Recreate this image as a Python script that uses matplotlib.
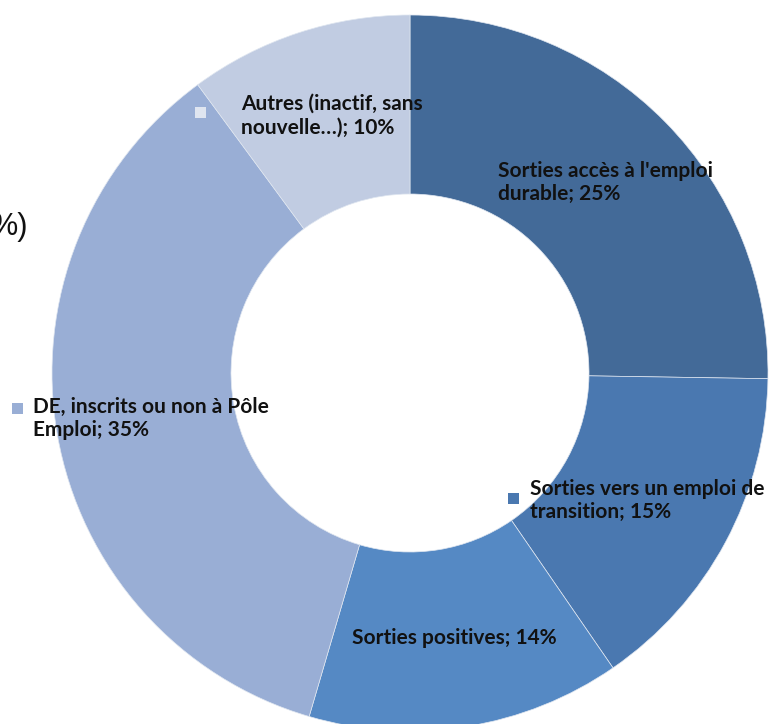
import matplotlib
matplotlib.use("Agg")
import matplotlib.pyplot as plt
from matplotlib.patches import Rectangle

# Data
categories = ["Sorties accès à l'emploi durable",
              "Sorties vers un emploi de transition",
              "Sorties positives",
              "DE, inscrits ou non à Pôle Emploi",
              "Autres (inactif, sans nouvelle…)"]
values = [25, 15, 14, 35, 10]
label_text = ["Sorties accès à l'emploi\ndurable; 25%",
              "Sorties vers un emploi de\ntransition; 15%",
              "Sorties positives; 14%",
              "DE, inscrits ou non à Pôle\nEmploi; 35%",
              "Autres (inactif, sans\nnouvelle…); 10%"]
colors = ["#436a98", "#4a78b0", "#5589c4", "#99aed5", "#c1cce2"]

W, H = 775, 724
fig = plt.figure(figsize=(W / 100, H / 100), dpi=100)
ax = fig.add_axes([0, 0, 1, 1])
cx, cy, R = 410, 373, 358

ax.pie(values, colors=colors, startangle=90, counterclock=False,
       radius=1.0, wedgeprops=dict(width=0.5, edgecolor="#dfe6f0", linewidth=0.5))
ax.set_xlim(-cx / R, (W - cx) / R)
ax.set_ylim(-(H - cy) / R, cy / R)
ax.set_aspect("equal")
ax.axis("off")

font = "Lato"
fs = 15

def ftxt(x, y, s, **kw):
    fig.text(x / W, 1 - y / H, s, **kw)

# label positions (pixel, left x / top y)
pos = [(498, 161), (530, 479), (352, 628), (33, 397), (241, 94)]
for (x, y), s in zip(pos, label_text):
    ftxt(x, y, s, ha="left", va="top", fontsize=fs, fontweight="bold",
         family=font, color="#111111", linespacing=1.2)

# small legend squares
squares = [(508, 493, colors[1]), (12, 403, colors[3]), (195, 107, "#dfe5f0")]
for x, y, c in squares:
    fig.patches.append(Rectangle((x / W, 1 - (y + 11) / H), 11 / W, 11 / H,
                                 transform=fig.transFigure, facecolor=c,
                                 edgecolor="none"))

# cropped title fragment
ftxt(28, 227, "%)", ha="right", va="center", fontsize=22,
     family="Liberation Sans", color="#111111")

fig.savefig("out.png", dpi=100)
